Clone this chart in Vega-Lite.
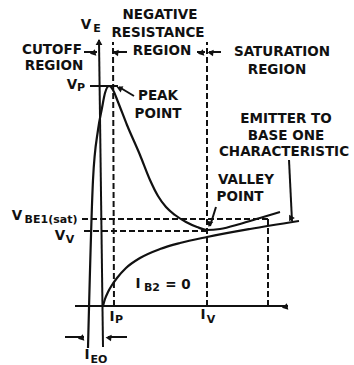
{
  "$schema": "https://vega.github.io/schema/vega-lite/v6.json",
  "width": 354,
  "height": 365,
  "autosize": {"type": "fit", "contains": "padding"},
  "padding": 0,
  "background": "#ffffff",
  "config": {"view": {"stroke": null}},
  "datasets": {
    "emitter": [
      {"x": -1.2, "y": -4.2}, {"x": -0.7, "y": 12.6}, {"x": -0.2, "y": 17.6}, {"x": 0.2, "y": 19.8},
      {"x": 0.5, "y": 21.3}, {"x": 0.9, "y": 22.0}, {"x": 1.3, "y": 21.6}, {"x": 1.8, "y": 20.4},
      {"x": 2.7, "y": 18.1}, {"x": 4.0, "y": 15.1}, {"x": 5.0, "y": 12.6}, {"x": 5.8, "y": 11.0},
      {"x": 6.6, "y": 9.9}, {"x": 7.5, "y": 9.1}, {"x": 8.6, "y": 8.4}, {"x": 9.7, "y": 7.9},
      {"x": 10.7, "y": 7.6}, {"x": 12.0, "y": 7.7}, {"x": 14.0, "y": 8.2}, {"x": 16.0, "y": 8.8},
      {"x": 18.0, "y": 9.4}
    ],
    "ib2": [
      {"x": 0.3, "y": 0.0}, {"x": 0.5, "y": 0.7}, {"x": 0.8, "y": 1.4}, {"x": 1.2, "y": 2.1},
      {"x": 1.7, "y": 2.8}, {"x": 2.6, "y": 3.8}, {"x": 4.0, "y": 4.8}, {"x": 6.0, "y": 5.7},
      {"x": 8.0, "y": 6.3}, {"x": 10.7, "y": 6.9}, {"x": 15.0, "y": 7.7}, {"x": 19.9, "y": 8.5}
    ],
    "solidSegs": [
      {"x": 0.3, "y": -4.1, "x2": -0.1, "y2": 26.6},
      {"x": -2.5, "y": 0, "x2": 18.8, "y2": 0},
      {"x": -1.0, "y": 22.0, "x2": 1.8, "y2": 22.0},
      {"x": -1.6, "y": 25.4, "x2": -0.3, "y2": 25.4},
      {"x": 2.7, "y": 25.4, "x2": 1.4, "y2": 25.4},
      {"x": 9.7, "y": 25.4, "x2": 10.5, "y2": 25.4},
      {"x": 12.1, "y": 25.4, "x2": 10.9, "y2": 25.4},
      {"x": 3.4, "y": 21.0, "x2": 1.9, "y2": 21.9},
      {"x": 11.6, "y": 9.9, "x2": 11.0, "y2": 8.0},
      {"x": 18.9, "y": 14.6, "x2": 19.2, "y2": 8.5},
      {"x": -3.5, "y": -3.1, "x2": -1.6, "y2": -3.1},
      {"x": 2.7, "y": -3.1, "x2": 0.8, "y2": -3.1}
    ],
    "dashedSegs": [
      {"x": 1.4, "y": 0, "x2": 1.3, "y2": 26.4},
      {"x": 10.7, "y": 0, "x2": 10.7, "y2": 26.4},
      {"x": 16.8, "y": 0, "x2": 16.8, "y2": 8.7},
      {"x": -1.8, "y": 8.7, "x2": 16.8, "y2": 8.7},
      {"x": -1.6, "y": 7.5, "x2": 10.7, "y2": 7.5}
    ],
    "heads": [
      {"x": -0.1, "y": 26.4, "dir": "up"},
      {"x": 18.6, "y": 0, "dir": "right"},
      {"x": -0.6, "y": 25.4, "dir": "right"},
      {"x": 1.7, "y": 25.4, "dir": "left"},
      {"x": 10.2, "y": 25.4, "dir": "right"},
      {"x": 11.2, "y": 25.4, "dir": "left"},
      {"x": 2.1, "y": 21.8, "dir": "peak"},
      {"x": 11.05, "y": 8.3, "dir": "valley"},
      {"x": 19.2, "y": 8.8, "dir": "char"},
      {"x": -1.8, "y": -3.1, "dir": "right"},
      {"x": 1.0, "y": -3.1, "dir": "left"}
    ],
    "words": [
      {"x": 6.0, "y": 29.1, "t": "NEGATIVE"},
      {"x": 5.8, "y": 27.3, "t": "RESISTANCE"},
      {"x": 6.2, "y": 25.5, "t": "REGION"},
      {"x": -4.8, "y": 25.6, "t": "CUTOFF"},
      {"x": -4.6, "y": 24.0, "t": "REGION"},
      {"x": 18.2, "y": 25.4, "t": "SATURATION"},
      {"x": 17.7, "y": 23.6, "t": "REGION"},
      {"x": 18.6, "y": 18.7, "t": "EMITTER TO"},
      {"x": 18.6, "y": 17.0, "t": "BASE ONE"},
      {"x": 18.4, "y": 15.4, "t": "CHARACTERISTIC"},
      {"x": 5.8, "y": 21.0, "t": "PEAK"},
      {"x": 5.8, "y": 19.2, "t": "POINT"},
      {"x": 14.6, "y": 12.6, "t": "VALLEY"},
      {"x": 14.0, "y": 10.9, "t": "POINT"}
    ],
    "symbols": [
      {"x": -1.4, "y": 28.1, "t": "V"},
      {"x": -2.8, "y": 22.1, "t": "V"},
      {"x": -8.3, "y": 9.0, "t": "V"},
      {"x": -4.0, "y": 7.0, "t": "V"},
      {"x": 1.2, "y": -1.1, "t": "I"},
      {"x": 10.3, "y": -0.9, "t": "I"},
      {"x": -1.3, "y": -4.9, "t": "I"},
      {"x": 3.8, "y": 2.2, "t": "I"},
      {"x": 7.8, "y": 2.1, "t": "= 0"}
    ],
    "subs": [
      {"x": -0.3, "y": 27.7, "t": "E"},
      {"x": -1.9, "y": 21.8, "t": "P"},
      {"x": -4.9, "y": 8.6, "t": "BE1(sat)"},
      {"x": -3.0, "y": 6.6, "t": "V"},
      {"x": 1.9, "y": -1.4, "t": "P"},
      {"x": 11.1, "y": -1.4, "t": "V"},
      {"x": -0.1, "y": -5.4, "t": "EO"},
      {"x": 5.2, "y": 1.8, "t": "B2"}
    ]
  },
  "encoding": {
    "x": {"field": "x", "type": "quantitative", "scale": {"domain": [-10, 25.4], "nice": false, "zero": false}, "axis": null},
    "y": {"field": "y", "type": "quantitative", "scale": {"domain": [-5.9, 30.6], "nice": false, "zero": false}, "axis": null}
  },
  "layer": [
    {
      "data": {"name": "dashedSegs"},
      "mark": {"type": "rule", "color": "#111111", "strokeWidth": 2, "strokeDash": [6, 3]},
      "encoding": {"x2": {"field": "x2"}, "y2": {"field": "y2"}}
    },
    {
      "data": {"name": "solidSegs"},
      "mark": {"type": "rule", "color": "#111111", "strokeWidth": 2},
      "encoding": {"x2": {"field": "x2"}, "y2": {"field": "y2"}}
    },
    {
      "data": {"name": "emitter"},
      "mark": {"type": "line", "color": "#111111", "strokeWidth": 2.2, "interpolate": "monotone"},
      "encoding": {}
    },
    {
      "data": {"name": "ib2"},
      "mark": {"type": "line", "color": "#111111", "strokeWidth": 2.2, "interpolate": "monotone"},
      "encoding": {}
    },
    {
      "data": {"name": "heads"},
      "mark": {"type": "point", "shape": "triangle-up", "filled": true, "color": "#111111", "size": 45, "opacity": 1},
      "encoding": {
        "angle": {"field": "dir", "type": "nominal", "scale": {"domain": ["up", "right", "left", "peak", "valley", "char"], "range": [0, 90, 270, 301, 197, 177]}, "legend": null}
      }
    },
    {
      "data": {"name": "words"},
      "mark": {"type": "text", "font": "DejaVu Sans", "fontWeight": "bold", "fontSize": 13.5, "color": "#111111", "align": "center", "baseline": "middle"},
      "encoding": {"text": {"field": "t"}}
    },
    {
      "data": {"name": "symbols"},
      "mark": {"type": "text", "font": "DejaVu Sans", "fontWeight": "bold", "fontSize": 13.5, "color": "#111111", "align": "center", "baseline": "middle"},
      "encoding": {"text": {"field": "t"}}
    },
    {
      "data": {"name": "subs"},
      "mark": {"type": "text", "font": "DejaVu Sans", "fontWeight": "bold", "fontSize": 11, "color": "#111111", "align": "center", "baseline": "middle"},
      "encoding": {"text": {"field": "t"}}
    }
  ]
}
